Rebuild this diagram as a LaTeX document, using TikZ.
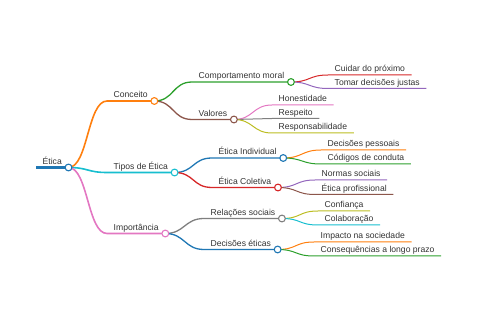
\documentclass[tikz,border=0pt]{standalone}
\usepackage{fontspec}
\setmainfont{Liberation Sans}
\usepackage{tikz}
\usetikzlibrary{arrows.meta,positioning,calc}
\usepackage{xcolor}

\definecolor{mblue}{HTML}{1F77B4}
\definecolor{morange}{HTML}{FF7F0E}
\definecolor{mgreen}{HTML}{2CA02C}
\definecolor{mred}{HTML}{D62728}
\definecolor{mpurple}{HTML}{9467BD}
\definecolor{mbrown}{HTML}{8C564B}
\definecolor{mpink}{HTML}{E377C2}
\definecolor{mgray}{HTML}{7F7F7F}
\definecolor{molive}{HTML}{BCBD22}
\definecolor{mcyan}{HTML}{17BECF}
\definecolor{mtext}{HTML}{333333}
\newcommand{\mapfont}{\fontsize{8.6}{10}\selectfont}

\begin{document}
\begin{tikzpicture}[
  x=1pt, y=-1pt,
  topic/.style={anchor=south west, inner xsep=6.5pt, inner ysep=1.2pt,
                text depth=2pt, font=\mapfont, text=mtext},
  lvlA/.style={line width=1.6pt},
  lvlB/.style={line width=1.3pt},
  lvlC/.style={line width=1.0pt},
  knot/.style={draw=#1, line width=1.1pt, fill=white},
  lnk/.style={to path={.. controls +(19.5,0) and +(-19.5,0) .. (\tikztotarget)}}
]
  \useasboundingbox (0,0) rectangle (480,320);

  % Root
  \node[topic] (eti) at (36,167.5) {Ética};

  % First level
  \node[topic] (con) at (107,101)   {Conceito};
  \node[topic] (tip) at (107,172.5) {Tipos de Ética};
  \node[topic] (imp) at (107,233.5) {Importância};

  % Second level
  \node[topic] (com) at (192,82)    {Comportamento moral};
  \node[topic] (val) at (192,119.5) {Valores};
  \node[topic] (ind) at (212,158)   {Ética Individual};
  \node[topic] (col) at (212,187.5) {Ética Coletiva};
  \node[topic] (rel) at (204,218.5) {Relações sociais};
  \node[topic] (dec) at (204,249.5) {Decisões éticas};

  % Leaves
  \node[topic] (cui) at (328,75)    {Cuidar do próximo};
  \node[topic] (tom) at (328,88.5)  {Tomar decisões justas};
  \node[topic] (hon) at (272,105)   {Honestidade};
  \node[topic] (rsp) at (272,118.5) {Respeito};
  \node[topic] (rsb) at (272,133)   {Responsabilidade};
  \node[topic] (dp)  at (321,150)   {Decisões pessoais};
  \node[topic] (cc)  at (321,164)   {Códigos de conduta};
  \node[topic] (ns)  at (315,180)   {Normas sociais};
  \node[topic] (ep)  at (315,194.5) {Ética profissional};
  \node[topic] (cf)  at (318,211)   {Confiança};
  \node[topic] (cl)  at (318,225)   {Colaboração};
  \node[topic] (im)  at (314,242)   {Impacto na sociedade};
  \node[topic] (cq)  at (314,256)   {Consequências a longo prazo};

  % Root line
  \draw[mblue, line width=2.4pt] (eti.south west) -- (eti.south east);

  % Links with underlines
  \draw[lvlA, morange] (eti.south east) to[lnk] (con.south west) -- (con.south east);
  \draw[lvlA, mcyan]   (eti.south east) to[lnk] (tip.south west) -- (tip.south east);
  \draw[lvlA, mpink]   (eti.south east) to[lnk] (imp.south west) -- (imp.south east);

  \draw[lvlB, mgreen] (con.south east) to[lnk] (com.south west) -- (com.south east);
  \draw[lvlB, mbrown] (con.south east) to[lnk] (val.south west) -- (val.south east);
  \draw[lvlB, mblue]  (tip.south east) to[lnk] (ind.south west) -- (ind.south east);
  \draw[lvlB, mred]   (tip.south east) to[lnk] (col.south west) -- (col.south east);
  \draw[lvlB, mgray]  (imp.south east) to[lnk] (rel.south west) -- (rel.south east);
  \draw[lvlB, mblue]  (imp.south east) to[lnk] (dec.south west) -- (dec.south east);

  \draw[lvlC, mred]    (com.south east) to[lnk] (cui.south west) -- (cui.south east);
  \draw[lvlC, mpurple] (com.south east) to[lnk] (tom.south west) -- (tom.south east);
  \draw[lvlC, mpink]   (val.south east) to[lnk] (hon.south west) -- (hon.south east);
  \draw[lvlC, mgray]   (val.south east) to[lnk] (rsp.south west) -- (rsp.south east);
  \draw[lvlC, molive]  (val.south east) to[lnk] (rsb.south west) -- (rsb.south east);
  \draw[lvlC, morange] (ind.south east) to[lnk] (dp.south west) -- (dp.south east);
  \draw[lvlC, mgreen]  (ind.south east) to[lnk] (cc.south west) -- (cc.south east);
  \draw[lvlC, mpurple] (col.south east) to[lnk] (ns.south west) -- (ns.south east);
  \draw[lvlC, mbrown]  (col.south east) to[lnk] (ep.south west) -- (ep.south east);
  \draw[lvlC, molive]  (rel.south east) to[lnk] (cf.south west) -- (cf.south east);
  \draw[lvlC, mcyan]   (rel.south east) to[lnk] (cl.south west) -- (cl.south east);
  \draw[lvlC, morange] (dec.south east) to[lnk] (im.south west) -- (im.south east);
  \draw[lvlC, mgreen]  (dec.south east) to[lnk] (cq.south west) -- (cq.south east);

  % Fold circles
  \draw[knot=mblue]   (eti.south east) circle[radius=3.4];
  \draw[knot=morange] (con.south east) circle[radius=3.4];
  \draw[knot=mcyan]   (tip.south east) circle[radius=3.4];
  \draw[knot=mpink]   (imp.south east) circle[radius=3.4];
  \draw[knot=mgreen]  (com.south east) circle[radius=3.4];
  \draw[knot=mbrown]  (val.south east) circle[radius=3.4];
  \draw[knot=mblue]   (ind.south east) circle[radius=3.4];
  \draw[knot=mred]    (col.south east) circle[radius=3.4];
  \draw[knot=mgray]   (rel.south east) circle[radius=3.4];
  \draw[knot=mblue]   (dec.south east) circle[radius=3.4];
\end{tikzpicture}
\end{document}
